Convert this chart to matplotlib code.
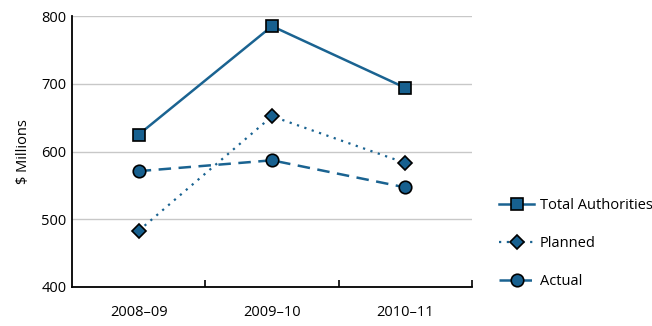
import numpy as np
import matplotlib
matplotlib.use("Agg")
import matplotlib.pyplot as plt

years = ["2008–09", "2009–10", "2010–11"]
total_authorities = [625, 785, 694]
planned = [483, 652, 583]
actual = [571, 587, 547]

blue = "#1a6391"
fill = "#17608f"

plt.rcParams['font.family'] = ['Open Sans', 'DejaVu Sans']

fig = plt.figure(figsize=(6.52, 3.26), dpi=100)
ax = fig.add_axes([72/652, 1 - 287/326, 400/652, 271/326])

x = np.arange(len(years))
ax.plot(x, total_authorities, color=blue, lw=1.8, marker='s', ms=8,
        mfc=fill, mec='black', mew=1.2, label='Total Authorities', zorder=3)
ax.plot(x, planned, color=blue, lw=1.6, ls=(0, (1, 2.5)), marker='D', ms=7,
        mfc=fill, mec='black', mew=1.2, label='Planned', zorder=3)
ax.plot(x, actual, color=blue, lw=1.8, ls=(0, (5, 3)), marker='o', ms=9,
        mfc=fill, mec='black', mew=1.2, label='Actual', zorder=3)

ax.set_xlim(-0.5, 2.5)
ax.set_ylim(400, 800)
ax.set_yticks([400, 500, 600, 700, 800])
ax.set_xticks(x)
ax.set_xticklabels(years)
ax.set_xticks([0.5, 1.5, 2.5], minor=True)
ax.tick_params(axis='x', which='major', length=0, pad=13, labelsize=10.5)
ax.tick_params(axis='x', which='minor', direction='in', length=5, width=1.2)
ax.tick_params(axis='y', length=0, pad=4, labelsize=10.5)
ax.grid(axis='y', color='#c8c8c8', lw=1)
ax.set_axisbelow(True)
for s in ['top', 'right']:
    ax.spines[s].set_visible(False)
for s in ['left', 'bottom']:
    ax.spines[s].set_linewidth(1.3)
    ax.spines[s].set_color('black')
ax.set_ylabel('$ Millions', fontsize=10.5, labelpad=7)

ax.legend(loc='center left', bbox_to_anchor=(1.035, 0.16), frameon=False,
          fontsize=10.5, labelspacing=1.6, handlelength=2.4, handletextpad=0.4)

fig.savefig("out.png", dpi=100)
